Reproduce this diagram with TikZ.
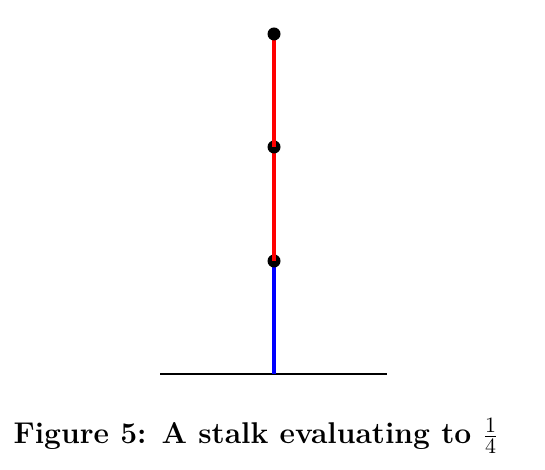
\documentclass[tikz,border=0pt]{standalone}
\usepackage{amsmath}
\tikzstyle{dot}=[circle,fill=black,inner sep=0pt,minimum size=6.5pt]
\tikzstyle{bseg}=[draw=blue,line width=2pt]
\tikzstyle{rseg}=[draw=red,line width=2pt]
\tikzstyle{ground}=[draw=black,line width=1pt]

\begin{document}
\begin{tikzpicture}[x=0.5pt,y=0.5pt]
    \useasboundingbox (0,0) rectangle (545,470);
    \coordinate (gl) at (160,96);
    \coordinate (gr) at (387,96);
    \coordinate (root) at (274,96);
    \coordinate (s1) at (274,209);
    \coordinate (s2) at (274,323);
    \coordinate (s3) at (274,436);
    \draw [style=ground] (gl) to (gr);
    \draw [style=bseg] (root) to (s1);
    \node [style=dot] (d1) at (s1) {};
    \draw [style=rseg] (d1.center) to (s2);
    \node [style=dot] (d2) at (s2) {};
    \draw [style=rseg] (d2.center) to (s3);
    \node [style=dot] (d3) at (s3) {};
    \node (cap) at (256,34) {\fontsize{15}{18}\selectfont\bfseries Figure 5: A stalk evaluating to \(\frac{1}{4}\)};
  \end{tikzpicture}
\end{document}
